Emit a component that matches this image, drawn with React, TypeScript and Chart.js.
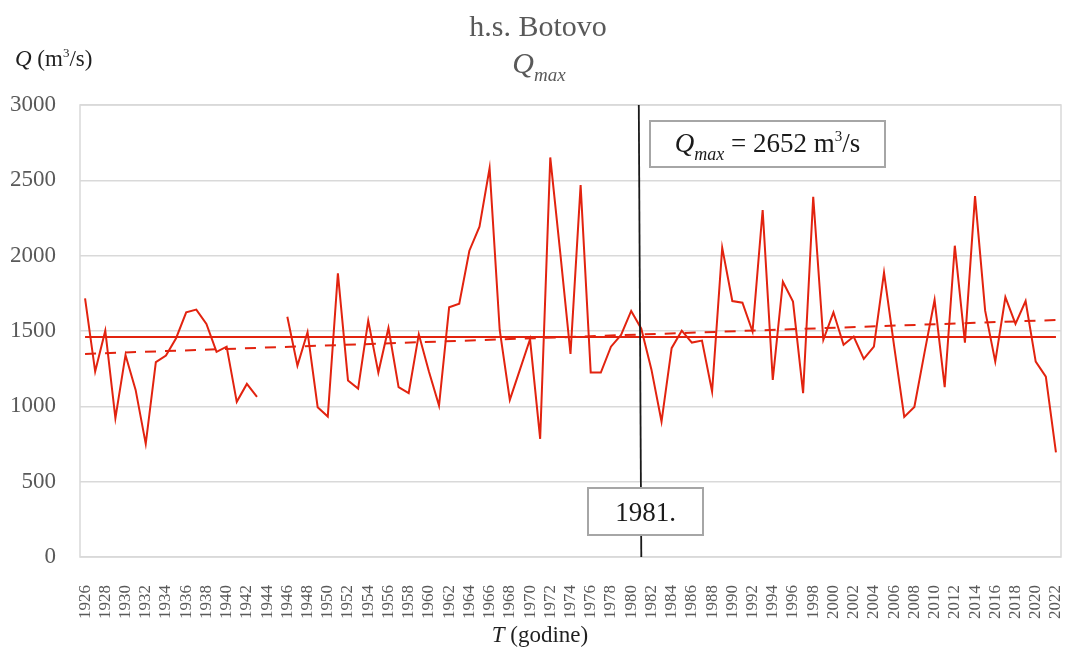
import React, { useEffect, useRef } from 'react';
import { Chart, registerables } from 'chart.js';

Chart.register(...registerables);

const years = [
  1926, 1927, 1928, 1929, 1930, 1931, 1932, 1933, 1934, 1935,
  1936, 1937, 1938, 1939, 1940, 1941, 1942, 1943, 1944, 1945,
  1946, 1947, 1948, 1949, 1950, 1951, 1952, 1953, 1954, 1955,
  1956, 1957, 1958, 1959, 1960, 1961, 1962, 1963, 1964, 1965,
  1966, 1967, 1968, 1969, 1970, 1971, 1972, 1973, 1974, 1975,
  1976, 1977, 1978, 1979, 1980, 1981, 1982, 1983, 1984, 1985,
  1986, 1987, 1988, 1989, 1990, 1991, 1992, 1993, 1994, 1995,
  1996, 1997, 1998, 1999, 2000, 2001, 2002, 2003, 2004, 2005,
  2006, 2007, 2008, 2009, 2010, 2011, 2012, 2013, 2014, 2015,
  2016, 2017, 2018, 2019, 2020, 2021, 2022,
];

const qmaxValues: (number | null)[] = [
  1717, 1231, 1502, 921, 1341, 1109, 751, 1293, 1337, 1452,
  1624, 1642, 1547, 1361, 1396, 1030, 1149, 1063, null, null,
  1595, 1270, 1492, 994, 932, 1883, 1171, 1118, 1569, 1224,
  1520, 1127, 1087, 1478, 1231, 1005, 1657, 1681, 2033, 2192,
  2581, 1507, 1043, 1244, 1445, 784, 2652, 2010, 1348, 2468,
  1224, 1224, 1396, 1474, 1633, 1515, 1245, 899, 1386, 1502,
  1423, 1436, 1098, 2053, 1699, 1688, 1496, 2303, 1176, 1827,
  1695, 1087, 2391, 1441, 1624, 1408, 1463, 1315, 1396, 1887,
  1400, 930, 996, 1355, 1706, 1127, 2066, 1423, 2395, 1635,
  1297, 1724, 1547, 1699, 1297, 1197, 694,
];

const meanValue = 1460;
const trendStart = 1348;
const trendEnd = 1573;
const markerYear = '1981';

const RED = '#e2230f';
const SERIF = '"Liberation Serif", "Times New Roman", serif';

type Part = { text: string; size: number; italic?: boolean; dy?: number };

function measureParts(ctx: CanvasRenderingContext2D, parts: Part[]) {
  let w = 0;
  for (const p of parts) {
    ctx.font = `${p.italic ? 'italic ' : ''}${p.size}px ${SERIF}`;
    w += ctx.measureText(p.text).width;
  }
  return w;
}

function drawParts(
  ctx: CanvasRenderingContext2D,
  parts: Part[],
  x: number,
  y: number,
  align: 'left' | 'center',
  color: string,
) {
  const total = measureParts(ctx, parts);
  let cx = align === 'center' ? x - total / 2 : x;
  ctx.fillStyle = color;
  ctx.textAlign = 'left';
  ctx.textBaseline = 'alphabetic';
  for (const p of parts) {
    ctx.font = `${p.italic ? 'italic ' : ''}${p.size}px ${SERIF}`;
    ctx.fillText(p.text, cx, y + (p.dy || 0));
    cx += ctx.measureText(p.text).width;
  }
}

export default function App() {
  const ref = useRef<HTMLCanvasElement>(null);

  useEffect(() => {
    const canvas = ref.current;
    if (!canvas) return;
    const labels = years.map(String);
    const meanData = labels.map(() => meanValue);
    const trendData = labels.map((_, i) =>
      i === 0 ? trendStart : i === labels.length - 1 ? trendEnd : null,
    );
    const peak = Math.max(...(qmaxValues.filter((v) => v !== null) as number[]));

    const overlay = {
      id: 'overlay',
      beforeDatasetsDraw(chart: any) {
        const { ctx, chartArea } = chart;
        ctx.save();
        ctx.strokeStyle = '#d9d9d9';
        ctx.lineWidth = 1.5;
        ctx.strokeRect(chartArea.left, chartArea.top, chartArea.right - chartArea.left, chartArea.bottom - chartArea.top);
        ctx.restore();
      },
      afterDatasetsDraw(chart: any) {
        const { ctx, chartArea } = chart;
        const xs = chart.scales.x;
        const idx = labels.indexOf(markerYear);
        const xm = xs.getPixelForValue(idx);
        ctx.save();
        // vertical marker line
        ctx.strokeStyle = '#1a1a1a';
        ctx.lineWidth = 1.8;
        ctx.beginPath();
        ctx.moveTo(xm - 2.5, chartArea.top);
        ctx.lineTo(xm, chartArea.bottom);
        ctx.stroke();

        // Qmax box
        ctx.fillStyle = '#ffffff';
        ctx.fillRect(650, 121, 235, 46);
        ctx.strokeStyle = '#a6a6a6';
        ctx.lineWidth = 2;
        ctx.strokeRect(650, 121, 235, 46);
        drawParts(
          ctx,
          [
            { text: 'Q', size: 27, italic: true },
            { text: 'max', size: 18, italic: true, dy: 8 },
            { text: ' = ' + peak + ' m', size: 27 },
            { text: '3', size: 15, dy: -11 },
            { text: '/s', size: 27 },
          ],
          767.5,
          152,
          'center',
          '#1a1a1a',
        );

        // year box
        ctx.fillStyle = '#ffffff';
        ctx.fillRect(588, 488, 115, 47);
        ctx.strokeStyle = '#a6a6a6';
        ctx.lineWidth = 2;
        ctx.strokeRect(588, 488, 115, 47);
        drawParts(ctx, [{ text: markerYear + '.', size: 27 }], 645.5, 521, 'center', '#1a1a1a');

        // titles
        drawParts(ctx, [{ text: 'h.s. Botovo', size: 30 }], 538, 36, 'center', '#595959');
        drawParts(
          ctx,
          [
            { text: 'Q', size: 30, italic: true },
            { text: 'max', size: 19, italic: true, dy: 8 },
          ],
          539,
          73,
          'center',
          '#595959',
        );
        drawParts(
          ctx,
          [
            { text: 'Q', size: 23, italic: true },
            { text: ' (m', size: 23 },
            { text: '3', size: 13, dy: -9 },
            { text: '/s)', size: 23 },
          ],
          15,
          66,
          'left',
          '#1f1f1f',
        );
        drawParts(
          ctx,
          [
            { text: 'T', size: 23, italic: true },
            { text: ' (godine)', size: 23 },
          ],
          540,
          642,
          'center',
          '#1f1f1f',
        );
        ctx.restore();
      },
    };

    const chart = new Chart(canvas, {
      type: 'line',
      data: {
        labels,
        datasets: [
          {
            label: 'Qmax',
            data: qmaxValues,
            borderColor: RED,
            borderWidth: 2,
            pointRadius: 0,
            spanGaps: false,
            tension: 0,
            order: 0,
          },
          {
            label: 'Mean',
            data: meanData,
            borderColor: RED,
            borderWidth: 2,
            pointRadius: 0,
            order: 1,
          },
          {
            label: 'Trend',
            data: trendData,
            borderColor: RED,
            borderWidth: 2,
            borderDash: [11, 9],
            pointRadius: 0,
            spanGaps: true,
            order: 2,
          },
        ],
      },
      options: {
        responsive: false,
        animation: false,
        events: [],
        layout: { padding: { top: 105, right: 4, left: 0, bottom: 0 } },
        plugins: {
          legend: { display: false },
          tooltip: { enabled: false },
          title: { display: false },
        },
        scales: {
          x: {
            offset: true,
            grid: { display: false },
            border: { display: false },
            ticks: {
              autoSkip: false,
              maxRotation: 90,
              minRotation: 90,
              padding: 20,
              color: '#595959',
              font: { family: SERIF, size: 17 },
              callback: (_v: any, i: number) => (i % 2 === 0 ? labels[i] : ''),
            },
            afterFit: (s: any) => {
              s.height = 92;
              s.paddingLeft = 0;
              s.paddingRight = 0;
            },
          },
          y: {
            min: 0,
            max: 3000,
            ticks: {
              stepSize: 500,
              padding: 24,
              color: '#595959',
              font: { family: SERIF, size: 23 },
              callback: (v: any) => String(v),
            },
            grid: { color: '#d9d9d9', lineWidth: 1.5, drawTicks: false },
            border: { display: false },
            afterFit: (s: any) => {
              s.width = 80;
              s.paddingTop = 0;
              s.paddingBottom = 0;
            },
          },
        },
      },
      plugins: [overlay],
    });

    return () => chart.destroy();
  }, []);

  return (
    <div style={{ position: 'fixed', left: 0, top: 0, width: 1065, height: 649, background: '#ffffff' }}>
      <canvas ref={ref} width={1065} height={649} style={{ display: 'block' }} />
    </div>
  );
}
